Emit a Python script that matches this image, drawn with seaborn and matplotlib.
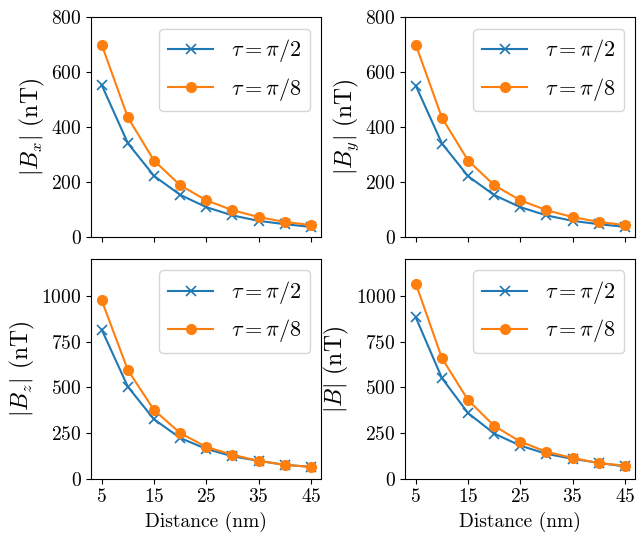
import numpy as np
import pandas as pd
import matplotlib
matplotlib.use("Agg")
import matplotlib.pyplot as plt
import seaborn as sns

distance = [5, 10, 15, 20, 25, 30, 35, 40, 45]

bx_pi2 = [553, 341, 222, 153, 108, 78, 58, 46, 36]
bx_pi8 = [700, 435, 278, 188, 133, 97, 72, 54, 43]
by_pi2 = [551, 340, 221, 152, 108, 78, 58, 46, 36]
by_pi8 = [700, 434, 278, 188, 133, 97, 72, 54, 43]
bz_pi2 = [815, 503, 325, 223, 163, 123, 98, 76, 65]
bz_pi8 = [975, 594, 376, 250, 174, 131, 98, 76, 65]
b_pi2 = [882, 550, 359, 247, 181, 136, 109, 87, 67]
b_pi8 = [1067, 659, 430, 289, 203, 147, 114, 85, 72]

panels = [
    (r"$|B_x|$ (nT)", bx_pi2, bx_pi8, 800, [0, 200, 400, 600, 800]),
    (r"$|B_y|$ (nT)", by_pi2, by_pi8, 800, [0, 200, 400, 600, 800]),
    (r"$|B_z|$ (nT)", bz_pi2, bz_pi8, 1200, [0, 250, 500, 750, 1000]),
    (r"$|B|$ (nT)", b_pi2, b_pi8, 1200, [0, 250, 500, 750, 1000]),
]

plt.rcParams["font.family"] = "serif"
plt.rcParams["font.serif"] = ["cmr10"]
plt.rcParams["mathtext.fontset"] = "cm"
plt.rcParams["axes.formatter.use_mathtext"] = True
plt.rcParams["axes.unicode_minus"] = False

fig, axes = plt.subplots(2, 2, figsize=(6.43, 5.44), dpi=100, sharex=True)

blue = "#1f77b4"
orange = "#ff7f0e"

for ax, (ylabel, s1, s2, ymax, yticks) in zip(axes.flat, panels):
    df = pd.DataFrame({"d": distance, "a": s1, "b": s2})
    sns.lineplot(data=df, x="d", y="a", ax=ax, marker="x", markersize=6.5,
                 markeredgewidth=1.2, markeredgecolor=blue, color=blue,
                 linewidth=1.5, label=r"$\tau = \pi/2$")
    sns.lineplot(data=df, x="d", y="b", ax=ax, marker="o", markersize=7,
                 markeredgewidth=1, markeredgecolor=orange, color=orange,
                 linewidth=1.5, label=r"$\tau = \pi/8$")
    ax.set_ylim(0, ymax)
    ax.set_yticks(yticks)
    ax.set_ylabel(ylabel, fontsize=17, labelpad=3)
    ax.set_xlabel("")
    ax.tick_params(labelsize=14)
    ax.legend(fontsize=16, loc="upper right")

for ax in axes[1]:
    ax.set_xticks([5, 15, 25, 35, 45])
    ax.set_xlabel("Distance (nm)", fontsize=14)

fig.subplots_adjust(left=0.142, right=0.988, top=0.968, bottom=0.12,
                    wspace=0.366, hspace=0.103)
fig.savefig("out.png", dpi=100)
